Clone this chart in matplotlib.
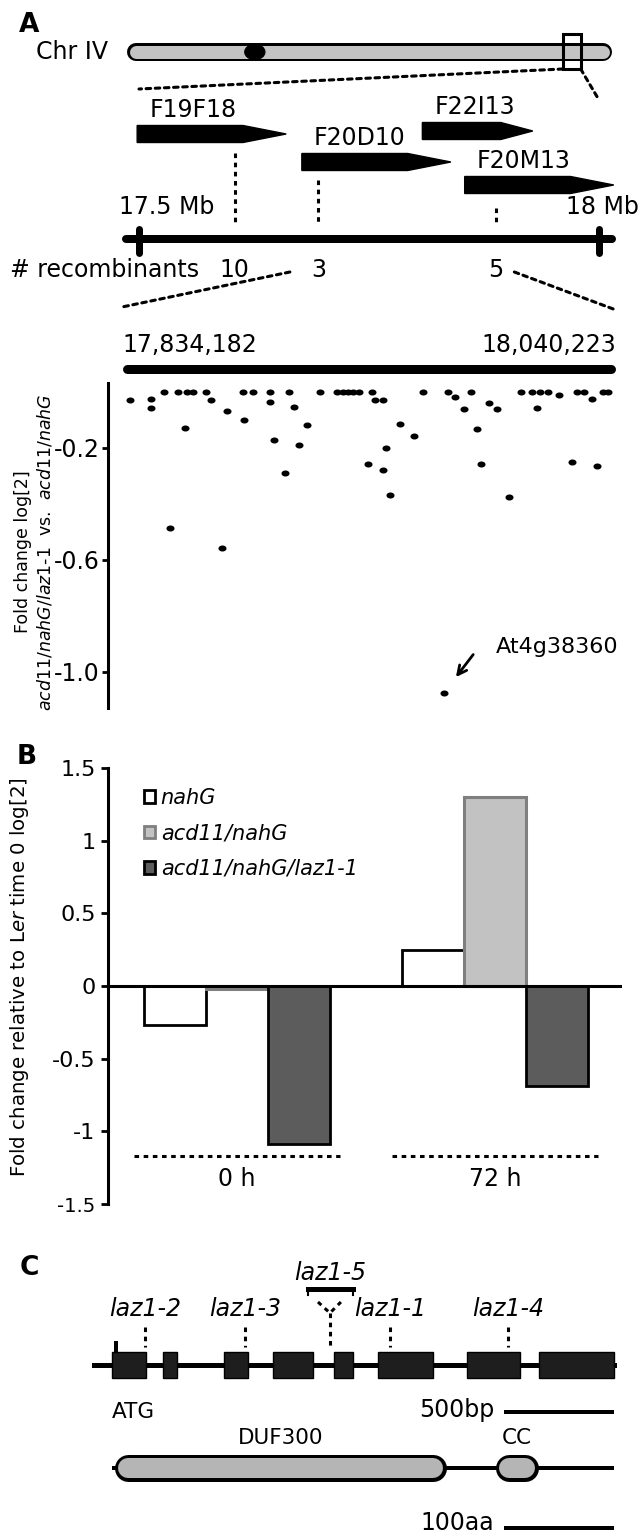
import numpy as np
import matplotlib
matplotlib.use('Agg')
import matplotlib.pyplot as plt
from matplotlib.patches import Polygon, Rectangle, Ellipse, Patch, ConnectionPatch
from matplotlib.transforms import blended_transform_factory

plt.rcParams['font.family'] = ['DejaVu Sans']
plt.rcParams['font.size'] = 17
plt.rcParams['axes.unicode_minus'] = False

# ---- panel A: chromosome / BAC map ----
CHR_LEN_MB = 18.59
CENTROMERE_MB = 4.9
CHR_BOX_MB = (16.70, 17.39)

BAC_NAMES = ['F19F18', 'F20D10', 'F22I13', 'F20M13']
BAC_START = [17.498, 17.677, 17.808, 17.854]
BAC_END = [17.660, 17.839, 17.928, 18.016]
RECOMB_MB = [17.604, 17.695, 17.888]
RECOMB_N = [10, 3, 5]
MAP_TICKS_MB = [17.5, 18.0]
MAP_LABELS = ['17.5 Mb', '18 Mb']
LINK_MB = (17.664, 17.908)

# ---- panel A: expression in the mapped interval ----
REGION_BP = (17834182, 18040223)
gene_mb = [17.8375, 17.8462, 17.8462, 17.8517, 17.8542, 17.8577, 17.8605,
           17.8614, 17.8637, 17.8692, 17.8713, 17.8758, 17.8781, 17.8845,
           17.8852, 17.8887, 17.8959, 17.8959, 17.8976, 17.9022, 17.9040,
           17.9061, 17.9081, 17.9115, 17.9168, 17.9237, 17.9262, 17.9286,
           17.9306, 17.9331, 17.9367, 17.9383, 17.9397, 17.9432, 17.9432,
           17.9443, 17.9460, 17.9501, 17.9560, 17.9596, 17.9703, 17.9731,
           17.9768, 17.9796, 17.9821, 17.9838, 17.9874, 17.9905, 17.9957,
           18.0005, 18.0051, 18.0072, 18.0085, 18.0117, 18.0166, 18.0217,
           18.0238, 18.0269, 18.0301, 18.0322, 18.0349, 18.0370]
fold_change = [-0.030, -0.024, -0.058, 0.0, -0.485, 0.0, -0.130,
               0.0, 0.0, 0.0, -0.030, -0.558, -0.068, 0.0,
               -0.100, 0.0, 0.0, -0.035, -0.170, -0.288, 0.0,
               -0.052, -0.190, -0.118, 0.0, 0.0, 0.0, 0.0,
               0.0, 0.0, -0.258, 0.0, -0.030, -0.030, -0.280,
               -0.200, -0.368, -0.113, -0.157, 0.0, 0.0, -0.019,
               -0.061, 0.0, -0.132, -0.258, -0.038, -0.061, -0.374,
               0.0, 0.0, -0.056, 0.0, 0.0, -0.011, -0.251,
               0.0, 0.0, -0.026, -0.263, 0.0, 0.0]
OUTLIER_NAME = 'At4g38360'
OUTLIER_MB = 17.9685
OUTLIER_FC = -1.074

# ---- panel B ----
TIMES = ['0 h', '72 h']
GENOTYPES = ['nahG', 'acd11/nahG', 'acd11/nahG/laz1-1']
nahg_fc = [-0.27, 0.245]
acd11_fc = [-0.02, 1.30]
laz_fc = [-1.09, -0.69]

# ---- panel C: gene and protein ----
GENE_SPAN_BP = (-85, 2368)
EXON_START = [0, 241, 528, 759, 1047, 1255, 1675, 2014]
EXON_END = [160, 307, 642, 948, 1137, 1514, 1925, 2368]
ATG_BP = 19
ALLELES = ['laz1-2', 'laz1-3', 'laz1-1', 'laz1-4']
ALLELE_BP = [156, 627, 1311, 1868]
LAZ15_BP = 1028
LAZ15_SPAN = (925, 1137)
SCALE_END_BP = 2358
PROT_LEN = 470
DOMAINS = ['DUF300', 'CC']
DOM_START = [0, 360]
DOM_END = [314, 400]

W, H = 640, 1532
PT = 0.72          # points per pixel at dpi 100
DOT = (0, (1.5, 1.5))

fig = plt.figure(figsize=(W / 100, H / 100), dpi=100)


def overlay(x0, x1):
    a = fig.add_axes([0, 0, 1, 1], facecolor='none')
    a.set_xlim(x0, x1)
    a.set_ylim(H, 0)
    a.axis('off')
    return a


def capsule(ax, x0, x1, y, h, fill, edge=None, ew=0.0):
    lo, hi = ax.get_xlim()
    r = h / 2 * (hi - lo) / W
    if edge is not None:
        ax.plot([x0 + r, x1 - r], [y, y], color=edge, lw=h * PT, solid_capstyle='round')
        ax.plot([x0 + r, x1 - r], [y, y], color=fill, lw=(h - 2 * ew) * PT, solid_capstyle='round')
    else:
        ax.plot([x0 + r, x1 - r], [y, y], color=fill, lw=h * PT, solid_capstyle='round')


ax_px = overlay(0, W)
k_chr = CHR_LEN_MB / (612 - 127)
ax_chr = overlay(-127 * k_chr, (W - 127) * k_chr)
k_map = 0.5 / 460
ax_map = overlay(17.5 - 139 * k_map, 17.5 + (W - 139) * k_map)
k_bp = 500 / 106
ax_gene = overlay(-112 * k_bp, (W - 112) * k_bp)
k_aa = 100 / 106
ax_prot = overlay(-114 * k_aa, (W - 114) * k_aa)

# panel letters
for letter, (x, y) in zip('ABC', [(29, 25), (27, 757), (29, 1268)]):
    ax_px.text(x, y, letter, fontsize=19, fontweight='bold', ha='center', va='center')

# chromosome
ax_px.text(108, 52, 'Chr IV', ha='right', va='center')
capsule(ax_chr, 0, CHR_LEN_MB, 52, 18, '#c3c3c3', 'black', 2.5)
ax_chr.add_patch(Ellipse((CENTROMERE_MB, 52), 20 * k_chr, 15, color='black', zorder=3))
ax_chr.add_patch(Rectangle((CHR_BOX_MB[0], 34), CHR_BOX_MB[1] - CHR_BOX_MB[0], 35,
                           fill=False, lw=2.2, ec='black', zorder=3))
for bx_mb, end_mb, y_end in [(CHR_BOX_MB[0], MAP_TICKS_MB[0], 89), (CHR_BOX_MB[1], MAP_TICKS_MB[1], 100)]:
    con = ConnectionPatch(xyA=(bx_mb, 69), coordsA=ax_chr.transData,
                          xyB=(end_mb, y_end), coordsB=ax_map.transData,
                          ls=DOT, lw=2.2, color='black')
    fig.add_artist(con)

# BACs
BAC_Y = [134, 162, 131, 185]
for name, s, e, y in zip(BAC_NAMES, BAC_START, BAC_END, BAC_Y):
    t = s + 0.71 * (e - s)
    ax_map.add_patch(Polygon([(s, y - 8.5), (t, y - 8.5), (e, y), (t, y + 8.5), (s, y + 8.5)],
                             closed=True, color='black'))
    ax_map.annotate(name, (s, y - 24), xytext=(12 * PT, 0), textcoords='offset points',
                    ha='left', va='center')

RECOMB_TOP = [153, 180, 208]
for x, top, n in zip(RECOMB_MB, RECOMB_TOP, RECOMB_N):
    ax_map.plot([x, x], [top, 223], ls=DOT, lw=2.2, color='black')
    ax_map.text(x, 270, str(n), ha='center', va='center')
ax_px.text(10, 270, '# recombinants', ha='left', va='center')

pad = 13 * k_map
ax_map.plot([MAP_TICKS_MB[0] - pad, MAP_TICKS_MB[1] + pad], [239, 239], lw=8 * PT,
            color='black', solid_capstyle='round')
for x, lab, dx in zip(MAP_TICKS_MB, MAP_LABELS, [28, 3]):
    ax_map.plot([x, x], [229, 253], lw=7 * PT, color='black', solid_capstyle='round')
    ax_map.annotate(lab, (x, 207), xytext=(dx * PT, 0), textcoords='offset points',
                    ha='center', va='center')

# scatter of the interval
sc = fig.add_axes([108 / W, (H - 708) / H, 512 / W, 325 / H], facecolor='none')
sc.set_xlim(17.8283, 18.0419)
sc.set_ylim(-1.129, 0.032)
t = np.linspace(0, 2 * np.pi, 40)
ell = np.column_stack([np.cos(t), 0.75 * np.sin(t)])
sc.plot(gene_mb, fold_change, ls='none', marker=ell, ms=5.8, color='black', mew=0)
sc.plot([OUTLIER_MB], [OUTLIER_FC], ls='none', marker=ell, ms=5.8, color='black', mew=0)
for side in ['top', 'right', 'bottom']:
    sc.spines[side].set_visible(False)
sc.spines['left'].set_linewidth(2.2)
sc.set_xticks([])
sc.set_yticks([-0.2, -0.6, -1.0])
sc.set_yticklabels(['-0.2', '-0.6', '-1.0'])
sc.tick_params(axis='y', direction='out', length=4, width=2, labelsize=17, pad=2)
sc.set_ylabel('Fold change log[2]\n$\\mathit{acd11/nahG/laz1}$-$\\mathit{1}$  vs.  $\\mathit{acd11/nahG}$',
              fontsize=12.5)
sc.yaxis.set_label_coords(-0.105, 0.48)
sc.annotate('', xy=(OUTLIER_MB, OUTLIER_FC), xytext=(21, 27.4), textcoords='offset points',
            arrowprops=dict(arrowstyle='->', lw=2, shrinkA=0, shrinkB=14, color='black',
                            mutation_scale=16))
sc.annotate(OUTLIER_NAME, xy=(OUTLIER_MB, OUTLIER_FC), xytext=(37.4, 33), textcoords='offset points',
            ha='left', va='center', fontsize=16)

reg = blended_transform_factory(sc.transData, ax_px.transData)
r0, r1 = REGION_BP[0] / 1e6, REGION_BP[1] / 1e6
cap = 4.5 * (18.0419 - 17.8283) / 512
ax_px.plot([r0 + cap, r1 - cap], [369, 369], transform=reg, lw=9 * PT, color='black',
           solid_capstyle='round')
ax_px.text(r0, 345, f'{REGION_BP[0]:,}', transform=reg, ha='left', va='center')
ax_px.text(r1, 345, f'{REGION_BP[1]:,}', transform=reg, ha='right', va='center')
for link, r, y_end in [(LINK_MB[0], r0, 307), (LINK_MB[1], r1, 310)]:
    con = ConnectionPatch(xyA=(link, 272), coordsA=ax_map.transData,
                          xyB=(r, y_end), coordsB=reg, ls=DOT, lw=2.2, color='black')
    fig.add_artist(con)

# ---- panel B ----
bx = fig.add_axes([108 / W, (H - 1204) / H, 514 / W, 436 / H], facecolor='none')
x = np.arange(len(TIMES))
w = 0.24
bx.bar(x - w, nahg_fc, w, color='white', edgecolor='black', lw=2)
bx.bar(x, acd11_fc, w, color='#c2c2c2', edgecolor='#7f7f7f', lw=2.2)
bx.bar(x + w, laz_fc, w, color='#5c5c5c', edgecolor='black', lw=2)
bx.axhline(0, color='black', lw=2.2)
bx.set_xlim(-0.5, 1.492)
bx.set_ylim(-1.5, 1.5)
for xi, lab in zip(x, TIMES):
    bx.plot([xi - 0.4, xi + 0.4], [-1.17, -1.17], ls=DOT, lw=2.2, color='black')
    bx.text(xi, -1.33, lab, ha='center', va='center')
for side in ['top', 'right', 'bottom']:
    bx.spines[side].set_visible(False)
bx.spines['left'].set_linewidth(2.2)
bx.set_xticks([])
bx.set_yticks([-1.5, -1, -0.5, 0, 0.5, 1, 1.5])
bx.set_yticklabels(['-1.5', '-1', '-0.5', '0', '0.5', '1', '1.5'])
bx.tick_params(axis='y', direction='out', length=5, width=2, labelsize=16, pad=4)
bx.get_yticklabels()[0].set_fontsize(14)
bx.set_ylabel('Fold change relative to L$\\mathit{er}$ time 0 log[2]', fontsize=14.2)
bx.yaxis.set_label_coords(-0.15, 0.52)
handles = [Patch(facecolor='white', edgecolor='black', lw=2, label=GENOTYPES[0]),
           Patch(facecolor='#c2c2c2', edgecolor='#7f7f7f', lw=2, label=GENOTYPES[1]),
           Patch(facecolor='#5c5c5c', edgecolor='black', lw=2, label=GENOTYPES[2])]
bx.legend(handles=handles, loc='upper left', bbox_to_anchor=(0.07, 0.955), frameon=False,
          prop={'style': 'italic', 'size': 15}, handlelength=0.55, handleheight=0.55,
          handletextpad=0.25, labelspacing=0.75, borderaxespad=0, borderpad=0)

# ---- panel C ----
ax_gene.plot(GENE_SPAN_BP, [1365, 1365], lw=5 * PT, color='black')
for s, e in zip(EXON_START, EXON_END):
    ax_gene.add_patch(Rectangle((s, 1352), e - s, 26, facecolor='#1e1e1e', edgecolor='black',
                                lw=1, zorder=3))
ax_gene.plot([ATG_BP, ATG_BP], [1343, 1356], lw=4 * PT, color='black')
for name, pos in zip(ALLELES, ALLELE_BP):
    ax_gene.plot([pos, pos], [1327, 1347], ls=DOT, lw=2.2, color='black')
    ax_gene.text(pos, 1309, name, style='italic', ha='center', va='center')
s, e = LAZ15_SPAN
ax_gene.plot([s, e], [1289, 1289], lw=5 * PT, color='black')
for xe in (s, e):
    ax_gene.plot([xe, xe], [1289, 1295], lw=1.5, color='black')
ax_gene.plot([s + 0.22 * (e - s), LAZ15_BP, s + 0.73 * (e - s)], [1302, 1313, 1302],
             ls=DOT, lw=2.2, color='black')
ax_gene.plot([LAZ15_BP, LAZ15_BP], [1313, 1347], ls=DOT, lw=2.2, color='black')
ax_gene.text((s + e) / 2, 1273, 'laz1-5', style='italic', ha='center', va='center')
ax_gene.text(EXON_START[0], 1412, 'ATG', ha='left', va='center', fontsize=15.5)
ax_gene.plot([SCALE_END_BP - 500, SCALE_END_BP], [1412, 1412], lw=4 * PT, color='black')
ax_gene.annotate('500bp', (SCALE_END_BP - 500, 1410), xytext=(-12 * PT, 0),
                 textcoords='offset points', ha='right', va='center')

ax_prot.plot([0, PROT_LEN], [1468, 1468], lw=4 * PT, color='black')
for name, s, e in zip(DOMAINS, DOM_START, DOM_END):
    capsule(ax_prot, s, e, 1468, 27, '#b5b5b5', 'black', 3.5)
    ax_prot.text((s + e) / 2, 1438, name, ha='center', va='center', fontsize=15.5)
ax_prot.plot([PROT_LEN - 100, PROT_LEN], [1528, 1528], lw=4 * PT, color='black')
ax_prot.annotate('100aa', (PROT_LEN - 100, 1523), xytext=(-12 * PT, 0),
                 textcoords='offset points', ha='right', va='center')

fig.savefig('out.png', dpi=100)
